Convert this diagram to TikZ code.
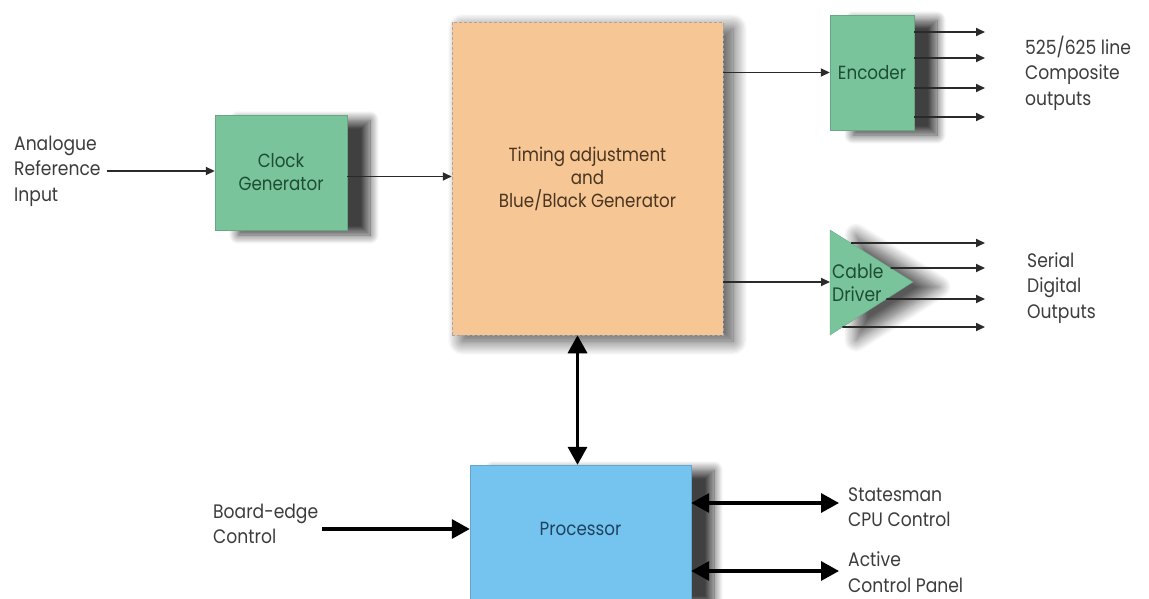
\documentclass[tikz,border=0pt]{standalone}
\usepackage{fontspec}
\setmainfont{Poppins}[FakeStretch=0.88]
\usepackage{tikz}
\usetikzlibrary{
	arrows.meta,
	positioning,
	calc,
	shadows.blur
}

\definecolor{boxgreen}{HTML}{79C49B}
\definecolor{boxorange}{HTML}{F6C795}
\definecolor{boxblue}{HTML}{75C4F0}
\definecolor{greentext}{HTML}{1E4D33}
\definecolor{browntext}{HTML}{4A3520}
\definecolor{bluetext}{HTML}{1F4260}
\definecolor{labeltext}{HTML}{3C3C3C}
\definecolor{linecol}{HTML}{2A2A2A}

\begin{document}
\begin{tikzpicture}[
				x=1pt, y=-1pt,
				block/.style={
					rectangle, inner sep=2pt, align=center,
					font=\fontsize{19}{23}\selectfont,
					blur shadow={shadow xshift=23pt, shadow yshift=-5pt,
						shadow blur radius=9pt, shadow blur steps=12,
						shadow opacity=75}
				},
				greenbox/.style={
					block, fill=boxgreen, draw=boxgreen!85!black,
					line width=0.4pt, text=greentext
				},
				timingbox/.style={
					block, fill=boxorange, draw=gray!70, densely dashed,
					line width=0.5pt, text=browntext,
					blur shadow={shadow xshift=10pt, shadow yshift=-6pt,
						shadow blur radius=14pt, shadow blur steps=12,
						shadow opacity=40}
				},
				procbox/.style={
					block, fill=boxblue, draw=boxblue!85!black,
					line width=0.4pt, text=bluetext
				},
				sidetext/.style={
					align=left, inner sep=0pt, text=labeltext,
					font=\fontsize{19.5}{25.5}\selectfont
				},
				thinarrow/.style={-{Triangle[length=9pt,width=8pt]}, line width=1.7pt, linecol},
				bigarrow/.style={-{Triangle[length=18pt,width=19pt]}, line width=3.4pt, black},
				bothway/.style={{Triangle[length=18pt,width=19pt]}-{Triangle[length=18pt,width=19pt]}, line width=3.4pt, black}
				]
				
				% page
				\useasboundingbox (0,0) rectangle (1149,599);
				
				% left input
				\node[sidetext, anchor=west] (analogue) at (14,171) {Analogue\\Reference\\Input};
				
				% clock generator
				\node[greenbox, minimum width=132pt, minimum height=115pt] (clock) at (281,172.5) {Clock\\Generator};
				
				% timing / generator block
				\node[timingbox, minimum width=271pt, minimum height=313pt] (timing) at (587.5,178.5)
					{Timing adjustment\\and\\Blue/Black Generator};
				
				% encoder
				\node[greenbox, minimum width=84pt, minimum height=115pt] (encoder) at (872,72.5) {Encoder};
				
				% cable driver (triangle)
				\coordinate (cdTop) at (830,230);
				\coordinate (cdBot) at (830,335);
				\coordinate (cdTip) at (913,282);
				\coordinate (cdIn) at (830,282);
				\fill[boxgreen, draw=boxgreen!85!black, line width=0.4pt,
					blur shadow={shadow xshift=26pt, shadow yshift=-5pt,
						shadow blur radius=12pt, shadow blur steps=12,
						shadow opacity=65}]
					(cdTop) -- (cdTip) -- (cdBot) -- cycle;
				\node[anchor=west, align=left, inner sep=0pt, text=greentext,
					font=\fontsize{19.5}{23}\selectfont] (cable) at (832,283) {Cable\\Driver};
				
				% processor
				\node[procbox, minimum width=221pt, minimum height=135pt, text depth=0pt] (proc) at (580.5,532.5) {\raisebox{8pt}{Processor}};
				
				% right hand labels
				\node[sidetext, anchor=west] (composite) at (1025,73) {525/625 line\\Composite\\outputs};
				\node[sidetext, anchor=west] (serial) at (1027,288) {Serial\\Digital\\Outputs};
				\node[sidetext, anchor=west] (statesman) at (848,507) {Statesman\\CPU Control};
				\node[sidetext, anchor=west] (active) at (848,572) {Active\\Control Panel};
				\node[sidetext, anchor=west] (board) at (213,524) {Board-edge\\Control};
				
				% signal path
				\draw[thinarrow] ([xshift=6pt]analogue.east) -- (analogue.east -| clock.west);
				\draw[thinarrow] ([yshift=-4pt]clock.east) -- ([yshift=-4pt]clock.east -| timing.west);
				\draw[thinarrow] (timing.east |- encoder.west) -- (encoder.west);
				\draw[thinarrow] (timing.east |- cdIn) -- (cdIn);
				
				% composite outputs
				\foreach \y in {32,58,88,117}
					\draw[thinarrow] (encoder.east |- 0,\y) -- (985,\y);
				
				% serial digital outputs
				\draw[thinarrow] ($(cdTop)!0.25!(cdTip)$) -- (985,243);
				\draw[thinarrow] ($(cdTop)!0.73!(cdTip)$) -- (985,268);
				\draw[thinarrow] ($(cdTip)!0.32!(cdBot)$) -- (985,299);
				\draw[thinarrow] ($(cdTip)!0.85!(cdBot)$) -- (985,327);
				
				% control
				\draw[bothway] ([xshift=-3pt]proc.north) -- ([xshift=-3pt]proc.north |- timing.south);
				\draw[bigarrow] ([xshift=4pt]board.east |- 0,529) -- (proc.west |- 0,529);
				\draw[bothway] (proc.east |- 0,503) -- ([xshift=-9pt]statesman.west |- 0,503);
				\draw[bothway] (proc.east |- 0,571) -- ([xshift=-9pt]active.west |- 0,571);
			\end{tikzpicture}
\end{document}
